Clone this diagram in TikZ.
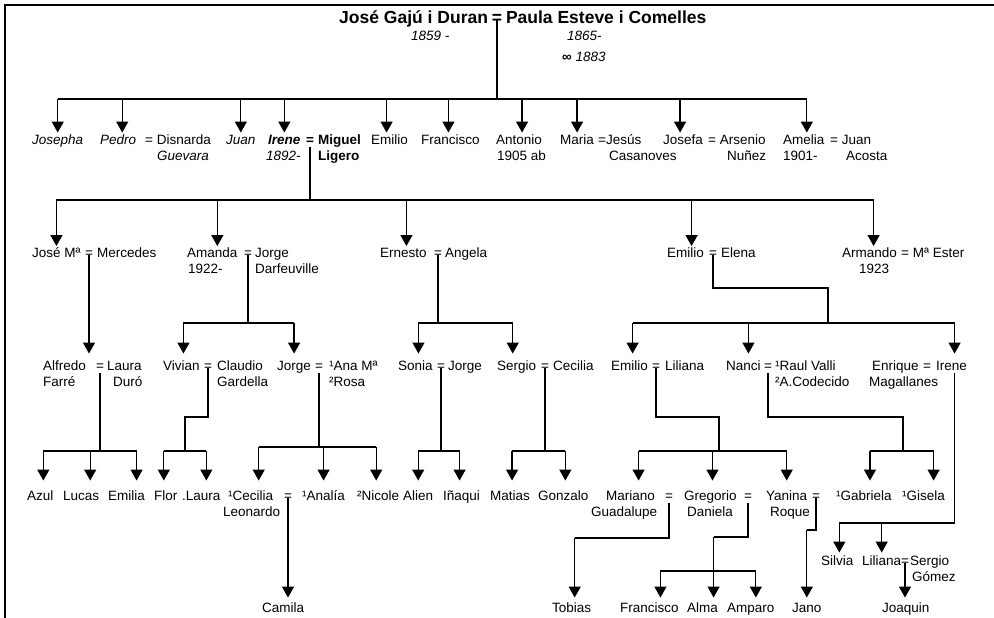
\documentclass[tikz,border=0pt]{standalone}
\usepackage{fontspec}
\setmainfont{Liberation Sans}
\usetikzlibrary{arrows.meta,positioning}

\begin{document}
\begin{tikzpicture}[x=1pt,y=-1pt,
    nm/.style={font=\fontsize{13.5}{16}\selectfont, inner sep=0pt, text height=9.7pt, text depth=2.8pt, anchor=west},
    eq/.style={nm, anchor=center},
    ttl/.style={font=\fontsize{17.5}{20}\selectfont\bfseries, inner sep=0pt, text height=12.5pt, text depth=3.6pt},
    ln/.style={line width=1.3pt},
    arr/.style={ln, -{Triangle[width=12pt,length=11pt]}},
    arr1/.style={arr, shorten >=2pt},
    arr2/.style={arr, shorten >=1.5pt},
    arr3/.style={arr, shorten >=7pt},
    arr4/.style={arr, shorten >=10pt},
    arr6/.style={arr, shorten >=3pt},
    arr5/.style={arr, shorten >=5pt}]
    \useasboundingbox (0,0) rectangle (994,618);

    % Frame
    \draw[line width=1.2pt] (5,618) -- (5,5) -- (994,5);

    % Title
    \node[ttl] (m0) at (497,19) {=};
    \node[ttl, left=3.5pt of m0] (jose) {José Gajú i Duran};
    \node[ttl, right=3.5pt of m0] (paula) {Paula Esteve i Comelles};
    \node[nm] (y1859) at (411,37) {\itshape 1859 -};
    \node[nm] (y1865) at (567,37) {\itshape 1865-};
    \node[nm] (y1883) at (562,58) {\textbf{∞} \textit{1883}};

    % Generation 1
    \node[nm] (josepha) at (32,141) {\itshape Josepha};
    \node[nm] (pedro) at (100,141) {\itshape Pedro};
    \node[nm] (disnarda) at (145,141) {= Disnarda};
    \node[nm] (guevara) at (157,157) {\itshape Guevara};
    \node[nm] (juan) at (226,141) {\itshape Juan};
    \node[nm] (irene) at (268,141) {\bfseries\itshape Irene};
    \node[eq] (m1) at (310,141) {\bfseries =};
    \node[nm] (miguel) at (318,141) {\bfseries Miguel};
    \node[nm] (y1892) at (266,157) {\itshape 1892-};
    \node[nm] (ligero) at (318,157) {\bfseries Ligero};
    \node[nm] (emilio1) at (371,141) {Emilio};
    \node[nm] (francisco1) at (421,141) {Francisco};
    \node[nm] (antonio) at (496,141) {Antonio};
    \node[nm] (y1905) at (497,157) {1905 ab};
    \node[nm] (maria) at (560,141) {Maria};
    \node[nm] (jesus) at (598,141) {=Jesús};
    \node[nm] (casanoves) at (609,157) {Casanoves};
    \node[nm] (josefa) at (663,141) {Josefa};
    \node[nm] (arsenio) at (708,141) {= Arsenio};
    \node[nm] (nunez) at (727,157) {Nuñez};
    \node[nm] (amelia) at (783,141) {Amelia};
    \node[nm] (juan2) at (830,141) {= Juan};
    \node[nm] (y1901) at (783,157) {1901-};
    \node[nm] (acosta) at (846,157) {Acosta};

    \coordinate (b1) at (0,99);
    \draw[ln] ([yshift=3pt]m0.base) -- (m0 |- b1);
    \draw[ln] (josepha.north |- b1) -- ([xshift=3pt]amelia.north |- b1);
    \draw[arr1] (josepha.north |- b1) -- (josepha.north);
    \draw[arr1] ([xshift=4pt]pedro.north |- b1) -- ([xshift=4pt]pedro.north);
    \draw[arr1] (juan.north |- b1) -- (juan.north);
    \draw[arr1] (irene.north |- b1) -- (irene.north);
    \draw[arr1] ([xshift=-3pt]emilio1.north |- b1) -- ([xshift=-3pt]emilio1.north);
    \draw[arr1] ([xshift=-2pt]francisco1.north |- b1) -- ([xshift=-2pt]francisco1.north);
    \draw[arr1] ([xshift=3pt]antonio.north |- b1) -- ([xshift=3pt]antonio.north);
    \draw[arr1] (maria.north |- b1) -- (maria.north);
    \draw[arr1] ([xshift=-3pt]josefa.north |- b1) -- ([xshift=-3pt]josefa.north);
    \draw[arr1] ([xshift=3pt]amelia.north |- b1) -- ([xshift=3pt]amelia.north);

    % Generation 2
    \node[nm] (josem) at (32,254) {José Mª};
    \node[eq] (m2a) at (89,254) {=};
    \node[nm] (mercedes) at (97,254) {Mercedes};
    \node[nm] (amanda) at (187,254) {Amanda};
    \node[eq] (m2b) at (248,254) {=};
    \node[nm] (jorge1) at (255,254) {Jorge};
    \node[nm] (y1922) at (188,270) {1922-};
    \node[nm] (darfeuville) at (255,270) {Darfeuville};
    \node[nm] (ernesto) at (380,254) {Ernesto};
    \node[eq] (m2c) at (438,254) {=};
    \node[nm] (angela) at (445,254) {Angela};
    \node[nm] (emilio2) at (667,254) {Emilio};
    \node[eq] (m2d) at (713,254) {=};
    \node[nm] (elena) at (721,254) {Elena};
    \node[nm] (armando) at (842,254) {Armando};
    \node[nm] (ester) at (901,254) {= Mª Ester};
    \node[nm] (y1923) at (859,270) {1923};

    \coordinate (b2) at (0,200);
    \draw[ln] (m1.south) -- (m1 |- b2);
    \draw[ln] (josem.north |- b2) -- ([xshift=4pt]armando.north |- b2);
    \draw[arr2] (josem.north |- b2) -- (josem.north);
    \draw[arr2] ([xshift=5pt]amanda.north |- b2) -- ([xshift=5pt]amanda.north);
    \draw[arr2] ([xshift=3pt]ernesto.north |- b2) -- ([xshift=3pt]ernesto.north);
    \draw[arr2] ([xshift=6pt]emilio2.north |- b2) -- ([xshift=6pt]emilio2.north);
    \draw[arr2] ([xshift=4pt]armando.north |- b2) -- ([xshift=4pt]armando.north);

    % Generation 3
    \node[nm] (alfredo) at (43,367) {Alfredo};
    \node[eq] (m3a) at (100,367) {=};
    \node[nm] (laura1) at (107,367) {Laura};
    \node[nm] (farre) at (43,383) {Farré};
    \node[nm] (duro) at (113,383) {Duró};
    \node[nm] (vivian) at (163,367) {Vivian};
    \node[eq] (m3b) at (208,367) {=};
    \node[nm] (claudio) at (217,367) {Claudio};
    \node[nm] (gardella) at (217,383) {Gardella};
    \node[nm] (jorge2) at (277,367) {Jorge};
    \node[eq] (m3c) at (319,367) {=};
    \node[nm] (ana) at (329,367) {¹Ana Mª};
    \node[nm] (rosa) at (329,383) {²Rosa};
    \node[nm] (sonia) at (398,367) {Sonia};
    \node[eq] (m3d) at (441,367) {=};
    \node[nm] (jorge3) at (448,367) {Jorge};
    \node[nm] (sergio1) at (497,367) {Sergio};
    \node[eq] (m3e) at (545,367) {=};
    \node[nm] (cecilia1) at (553,367) {Cecilia};
    \node[nm] (emilio3) at (611,367) {Emilio};
    \node[eq] (m3f) at (656,367) {=};
    \node[nm] (liliana1) at (665,367) {Liliana};
    \node[nm] (nanci) at (726,367) {Nanci};
    \node[eq] (m3g) at (768,367) {=};
    \node[nm] (raul) at (775,367) {¹Raul Valli};
    \node[nm] (codecido) at (775,383) {²A.Codecido};
    \node[nm] (enrique) at (872,367) {Enrique};
    \node[eq] (m3h) at (927,367) {=};
    \node[nm] (irene2) at (936,367) {Irene};
    \node[nm] (magallanes) at (869,383) {Magallanes};

    \coordinate (b3) at (0,323);
    \draw[arr3] ([yshift=2.5pt]m2a.base) -- (m2a |- alfredo.north);
    \draw[ln] ([yshift=2.5pt]m2b.base) -- (m2b |- b3);
    \draw[ln] ([xshift=2pt]vivian.north |- b3) -- (jorge2.north |- b3);
    \draw[arr3] ([xshift=2pt]vivian.north |- b3) -- ([xshift=2pt]vivian.north);
    \draw[arr3] (jorge2.north |- b3) -- (jorge2.north);
    \draw[ln] ([yshift=2.5pt]m2c.base) -- (m2c |- b3);
    \draw[ln] ([xshift=3pt]sonia.north |- b3) -- ([xshift=-4pt]sergio1.north |- b3);
    \draw[arr3] ([xshift=3pt]sonia.north |- b3) -- ([xshift=3pt]sonia.north);
    \draw[arr3] ([xshift=-4pt]sergio1.north |- b3) -- ([xshift=-4pt]sergio1.north);
    \coordinate (k3) at (828,288);
    \draw[ln] ([yshift=2.5pt]m2d.base) |- (k3) -- (k3 |- b3);
    \draw[ln] ([xshift=3pt]emilio3.north |- b3) -- ([xshift=3pt]irene2.north |- b3);
    \draw[arr3] ([xshift=3pt]emilio3.north |- b3) -- ([xshift=3pt]emilio3.north);
    \draw[arr3] ([xshift=5pt]nanci.north |- b3) -- ([xshift=5pt]nanci.north);
    \draw[arr3] ([xshift=3pt]irene2.north |- b3) -- ([xshift=3pt]irene2.north);

    % Generation 4
    \node[nm] (azul) at (27,497) {Azul};
    \node[nm] (lucas) at (63,497) {Lucas};
    \node[nm] (emilia) at (108,497) {Emilia};
    \node[nm] (flor) at (154,497) {Flor};
    \node[nm] (laura2) at (182,497) {.Laura};
    \node[nm] (cecilia2) at (228,497) {¹Cecilia};
    \node[eq] (m4a) at (288,497) {=};
    \node[nm] (leonardo) at (223,513) {Leonardo};
    \node[nm] (analia) at (302,497) {¹Analía};
    \node[nm] (nicole) at (357,497) {²Nicole};
    \node[nm] (alien) at (403,497) {Alien};
    \node[nm] (inaqui) at (443,497) {Iñaqui};
    \node[nm] (matias) at (490,497) {Matias};
    \node[nm] (gonzalo) at (538,497) {Gonzalo};
    \node[nm] (mariano) at (606,497) {Mariano};
    \node[eq] (m4b) at (669,497) {=};
    \node[nm] (guadalupe) at (591,513) {Guadalupe};
    \node[nm] (gregorio) at (684,497) {Gregorio};
    \node[eq] (m4c) at (748,497) {=};
    \node[nm] (daniela) at (687,513) {Daniela};
    \node[nm] (yanina) at (766,497) {Yanina};
    \node[eq] (m4d) at (816,497) {=};
    \node[nm] (roque) at (770,513) {Roque};
    \node[nm] (gabriela) at (836,497) {¹Gabriela};
    \node[nm] (gisela) at (902,497) {¹Gisela};

    \coordinate (b4) at (0,451);
    \draw[ln] (m3a.south) -- (m3a |- b4);
    \draw[ln] ([xshift=3pt]azul.north |- b4) -- ([xshift=10pt]emilia.north |- b4);
    \draw[arr4] ([xshift=3pt]azul.north |- b4) -- ([xshift=3pt]azul.north);
    \draw[arr4] ([xshift=9pt]lucas.north |- b4) -- ([xshift=9pt]lucas.north);
    \draw[arr4] ([xshift=10pt]emilia.north |- b4) -- ([xshift=10pt]emilia.north);
    \coordinate (k4a) at (185,417);
    \draw[ln] ([yshift=2.5pt]m3b.base) |- (k4a) -- (k4a |- b4);
    \draw[ln] ([xshift=-2pt]flor.north |- b4) -- ([xshift=5pt]laura2.north |- b4);
    \draw[arr4] ([xshift=-2pt]flor.north |- b4) -- ([xshift=-2pt]flor.north);
    \draw[arr4] ([xshift=5pt]laura2.north |- b4) -- ([xshift=5pt]laura2.north);
    \coordinate (b4j) at (0,447);
    \draw[ln] (m3c.south) -- (m3c |- b4j);
    \draw[ln] ([xshift=8pt]cecilia2.north |- b4j) -- ([xshift=-2pt]nicole.north |- b4j);
    \draw[arr4] ([xshift=8pt]cecilia2.north |- b4j) -- ([xshift=8pt]cecilia2.north);
    \draw[arr4] (analia.north |- b4j) -- (analia.north);
    \draw[arr4] ([xshift=-2pt]nicole.north |- b4j) -- ([xshift=-2pt]nicole.north);
    \draw[ln] ([yshift=2.5pt]m3d.base) -- (m3d |- b4);
    \draw[ln] (alien.north |- b4) -- ([xshift=-2pt]inaqui.north |- b4);
    \draw[arr4] (alien.north |- b4) -- (alien.north);
    \draw[arr4] ([xshift=-2pt]inaqui.north |- b4) -- ([xshift=-2pt]inaqui.north);
    \draw[ln] ([yshift=2.5pt]m3e.base) -- (m3e |- b4);
    \draw[ln] ([xshift=2pt]matias.north |- b4) -- ([xshift=2pt]gonzalo.north |- b4);
    \draw[arr4] ([xshift=2pt]matias.north |- b4) -- ([xshift=2pt]matias.north);
    \draw[arr4] ([xshift=2pt]gonzalo.north |- b4) -- ([xshift=2pt]gonzalo.north);
    \coordinate (k4b) at (719,417);
    \draw[ln] ([yshift=2.5pt]m3f.base) |- (k4b) -- (k4b |- b4);
    \draw[ln] ([xshift=8pt]mariano.north |- b4) -- (yanina.north |- b4);
    \draw[arr4] ([xshift=8pt]mariano.north |- b4) -- ([xshift=8pt]mariano.north);
    \draw[arr4] ([xshift=2pt]gregorio.north |- b4) -- ([xshift=2pt]gregorio.north);
    \draw[arr4] (yanina.north |- b4) -- (yanina.north);
    \coordinate (k4c) at (903,417);
    \draw[ln] (m3g.south) |- (k4c) -- (k4c |- b4);
    \draw[ln] ([xshift=6pt]gabriela.north |- b4) -- ([xshift=10pt]gisela.north |- b4);
    \draw[arr4] ([xshift=6pt]gabriela.north |- b4) -- ([xshift=6pt]gabriela.north);
    \draw[arr4] ([xshift=10pt]gisela.north |- b4) -- ([xshift=10pt]gisela.north);

    % Enrique's line
    \node[nm] (silvia) at (821,562) {Silvia};
    \node[nm] (liliana2) at (862,562) {Liliana};
    \node[eq] (m5) at (905,562) {=};
    \node[nm] (sergio2) at (910,562) {Sergio};
    \node[nm] (gomez) at (912,578) {Gómez};

    \coordinate (b4e) at (0,523);
    \draw[ln] ([xshift=3pt]irene2.south) -- ([xshift=3pt]irene2.south |- b4e) -- ([xshift=2pt]silvia.north |- b4e);
    \draw[arr6] ([xshift=2pt]silvia.north |- b4e) -- ([xshift=2pt]silvia.north);
    \draw[arr6] (liliana2.north |- b4e) -- (liliana2.north);

    % Generation 5
    \node[nm] (camila) at (262,609) {Camila};
    \node[nm] (tobias) at (552,609) {Tobias};
    \node[nm] (francisco2) at (620,609) {Francisco};
    \node[nm] (alma) at (687,609) {Alma};
    \node[nm] (amparo) at (727,609) {Amparo};
    \node[nm] (jano) at (792,609) {Jano};
    \node[nm] (joaquin) at (882,609) {Joaquin};

    \draw[arr5] ([yshift=2.5pt]m4a.base) -- (m4a |- camila.north);
    \coordinate (k5a) at (0,538);
    \draw[ln] (m4b.south) -- (m4b |- k5a) -- ([xshift=3pt]tobias.north |- k5a);
    \draw[arr5] ([xshift=3pt]tobias.north |- k5a) -- ([xshift=3pt]tobias.north);
    \coordinate (k5b) at (0,537);
    \coordinate (b5) at (0,571);
    \draw[ln] (m4c.south) -- (m4c |- k5b) -- ([xshift=11pt]alma.north |- k5b);
    \draw[arr5] ([xshift=11pt]alma.north |- k5b) -- ([xshift=11pt]alma.north);
    \draw[ln] ([xshift=11pt]francisco2.north |- b5) -- ([xshift=5pt]amparo.north |- b5);
    \draw[arr5] ([xshift=11pt]francisco2.north |- b5) -- ([xshift=11pt]francisco2.north);
    \draw[arr5] ([xshift=5pt]amparo.north |- b5) -- ([xshift=5pt]amparo.north);
    \coordinate (k5c) at (0,530);
    \draw[ln] ([yshift=2.5pt]m4d.base) -- (m4d |- k5c) -- (jano.north |- k5c);
    \draw[arr5] (jano.north |- k5c) -- (jano.north);
    \draw[arr5] ([yshift=2.5pt]m5.base) -- (m5 |- joaquin.north);

\end{tikzpicture}
\end{document}
